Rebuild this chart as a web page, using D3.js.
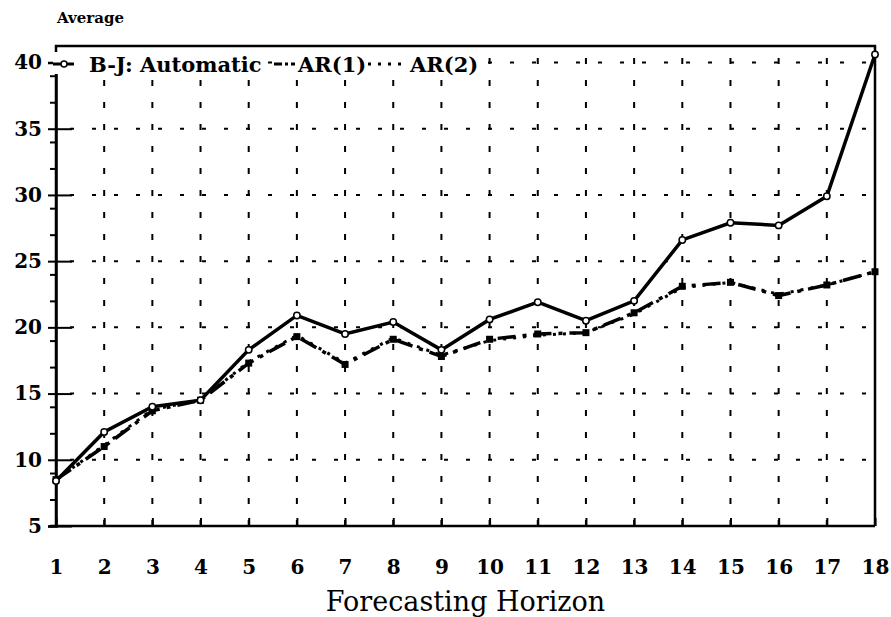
<!DOCTYPE html>
<html>
<head>
<meta charset="utf-8">
<script src="https://cdn.jsdelivr.net/npm/d3@7"></script>
<style>
  html, body { margin: 0; padding: 0; background: #fff; }
  svg { display: block; }
  text { font-family: "DejaVu Serif", "Liberation Serif", serif; fill: #000; }
</style>
</head>
<body>
<svg id="chart" width="891" height="617"></svg>
<script>
const horizons = d3.range(1, 19);
const bjValues = [8.4, 12.1, 14.0, 14.5, 18.3, 20.9, 19.5, 20.4, 18.3, 20.6, 21.9, 20.5, 22.0, 26.6, 27.9, 27.7, 29.9, 40.6];
const ar1Values = [8.5, 11.0, 13.7, 14.5, 17.3, 19.3, 17.2, 19.1, 17.8, 19.1, 19.5, 19.6, 21.1, 23.1, 23.4, 22.4, 23.2, 24.2];
const ar2Values = [8.5, 11.1, 13.8, 14.5, 17.4, 19.4, 17.3, 19.2, 17.9, 19.0, 19.4, 19.6, 21.0, 23.0, 23.4, 22.5, 23.2, 24.2];
const yTicks = [5, 10, 15, 20, 25, 30, 35, 40];
const yMinorTicks = [7, 9, 12, 14, 17, 19, 22, 24, 27, 29, 32, 34, 37, 39];
const legendLabels = ["B-J: Automatic", "AR(1)", "AR(2)"];

const svg = d3.select("#chart");
const plotLeft = 56, plotRight = 875, plotTop = 46, plotBottom = 526;

const x = d3.scaleLinear().domain([1, 18]).range([plotLeft, plotRight]);
const y = d3.scaleLinear().domain([5, 40]).range([plotBottom, 62.5]);

// grid
svg.append("g")
  .selectAll("line")
  .data(horizons.slice(1, -1))
  .join("line")
  .attr("x1", (d) => x(d)).attr("x2", (d) => x(d))
  .attr("y1", plotBottom).attr("y2", plotTop)
  .attr("stroke", "#000").attr("stroke-width", 2)
  .attr("stroke-dasharray", "6,16");

svg.append("g")
  .selectAll("line")
  .data(yTicks.slice(1))
  .join("line")
  .attr("x1", plotLeft).attr("x2", plotRight)
  .attr("y1", (d) => y(d)).attr("y2", (d) => y(d))
  .attr("stroke", "#000").attr("stroke-width", 2)
  .attr("stroke-dasharray", "4,18")
  .attr("stroke-dashoffset", -14);

// frame
svg.append("path")
  .attr("d", `M${plotLeft},${plotBottom}V${plotTop}H${plotRight}V${plotBottom}`)
  .attr("fill", "none").attr("stroke", "#000").attr("stroke-width", 2.5);

// y axis
const yAxis = svg.append("g")
  .attr("transform", `translate(${plotLeft},0)`)
  .call(d3.axisLeft(y).tickValues(yTicks).tickSize(8).tickPadding(6).tickFormat(d3.format("d")));
yAxis.select(".domain").attr("stroke-width", 2.5);
yAxis.selectAll(".tick line").attr("stroke-width", 2).attr("x2", 16).attr("x1", -8);
yAxis.selectAll(".tick text")
  .style("font-family", "'DejaVu Serif', serif")
  .style("font-size", "20px").style("font-weight", "bold");

svg.append("g")
  .attr("transform", `translate(${plotLeft},0)`)
  .call(d3.axisLeft(y).tickValues(yMinorTicks).tickSize(6).tickFormat(""))
  .call((g) => g.select(".domain").remove())
  .selectAll(".tick line").attr("stroke-width", 2);

// x axis
const xAxis = svg.append("g")
  .attr("transform", `translate(0,${plotBottom})`)
  .call(d3.axisBottom(x).tickValues(horizons).tickSize(-8).tickPadding(34).tickFormat(d3.format("d")));
xAxis.select(".domain").attr("stroke-width", 2.5).attr("d", `M${plotLeft - 6},0H${plotRight}`);
xAxis.selectAll(".tick line").attr("stroke-width", 2);
xAxis.selectAll(".tick text")
  .style("font-family", "'DejaVu Serif', serif")
  .style("font-size", "20px").style("font-weight", "bold");

svg.append("text")
  .attr("x", (plotLeft + plotRight) / 2).attr("y", 611)
  .attr("text-anchor", "middle")
  .style("font-size", "27px")
  .text("Forecasting Horizon");

svg.append("text")
  .attr("x", 57).attr("y", 23)
  .style("font-size", "15px").style("font-weight", "bold")
  .text("Average");

// series
const line = d3.line().x((d, i) => x(horizons[i])).y((d) => y(d));

svg.append("path").datum(ar2Values)
  .attr("d", line).attr("fill", "none")
  .attr("stroke", "#000").attr("stroke-width", 3)
  .attr("stroke-dasharray", "3,7");

svg.append("path").datum(ar1Values)
  .attr("d", line).attr("fill", "none")
  .attr("stroke", "#000").attr("stroke-width", 3.5)
  .attr("stroke-dasharray", "18,7,4,7");

svg.append("g").selectAll("rect")
  .data(ar1Values)
  .join("rect")
  .attr("x", (d, i) => x(horizons[i]) - 3.5)
  .attr("y", (d) => y(d) - 3.5)
  .attr("width", 7).attr("height", 7)
  .attr("fill", "#000");

svg.append("path").datum(bjValues)
  .attr("d", line).attr("fill", "none")
  .attr("stroke", "#000").attr("stroke-width", 3.5);

svg.append("g").selectAll("circle")
  .data(bjValues)
  .join("circle")
  .attr("cx", (d, i) => x(horizons[i]))
  .attr("cy", (d) => y(d))
  .attr("r", 3.2)
  .attr("fill", "#fff").attr("stroke", "#000").attr("stroke-width", 1.5);

// legend
const legendY = 64;
const legendItems = [
  { label: legendLabels[0], x0: 53, x1: 74, tx: 89, dash: null, w: 175 },
  { label: legendLabels[1], x0: 274, x1: 295, tx: 298, dash: "8,3,3,3", w: 62 },
  { label: legendLabels[2], x0: 368, x1: 405, tx: 410, dash: "3,7", w: 66 }
];
const legend = svg.append("g");
legend.selectAll("rect.bg")
  .data(legendItems)
  .join("rect")
  .attr("class", "bg")
  .attr("x", (d) => d.x0).attr("y", legendY - 12)
  .attr("width", (d) => d.w + d.tx - d.x0)
  .attr("height", 22).attr("fill", "#fff");
legend.selectAll("line")
  .data(legendItems)
  .join("line")
  .attr("x1", (d) => d.x0).attr("x2", (d) => d.x1)
  .attr("y1", legendY).attr("y2", legendY)
  .attr("stroke", "#000").attr("stroke-width", 3)
  .attr("stroke-dasharray", (d) => d.dash);
legend.append("circle")
  .attr("cx", 64).attr("cy", legendY).attr("r", 3)
  .attr("fill", "#fff").attr("stroke", "#000").attr("stroke-width", 1.5);
legend.selectAll("text.lbl")
  .data(legendItems)
  .join("text")
  .attr("class", "lbl")
  .attr("x", (d) => d.tx).attr("y", legendY + 8)
  .style("font-size", "21px").style("font-weight", "bold")
  .text((d) => d.label);
</script>
</body>
</html>
